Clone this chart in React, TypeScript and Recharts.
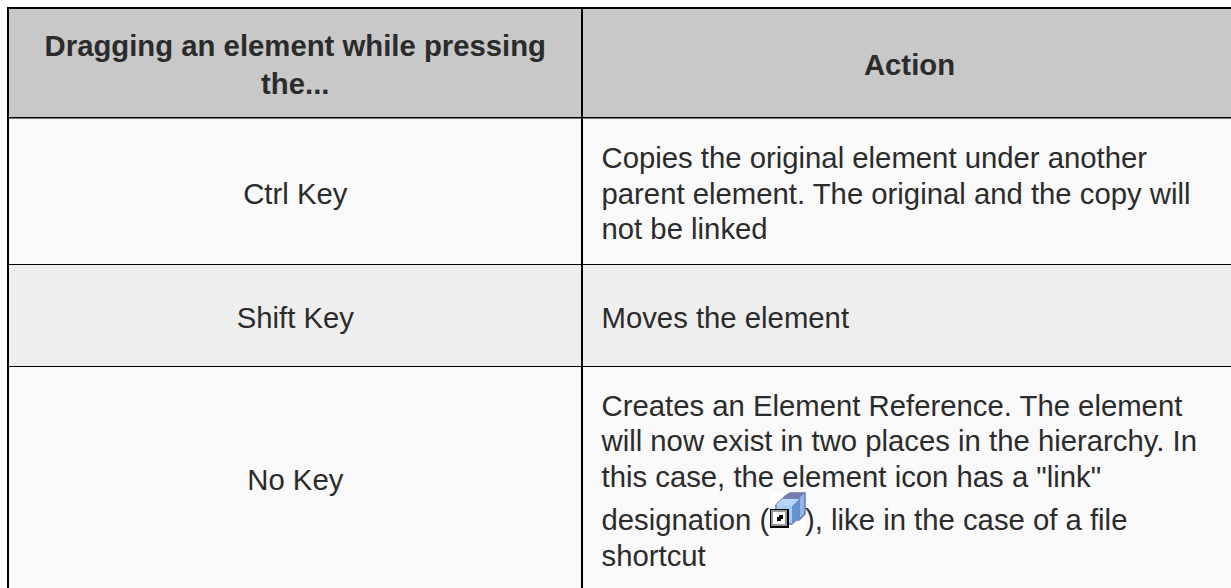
import React from 'react';
import { BarChart, Bar, XAxis, YAxis, ReferenceLine } from 'recharts';

const rowNames = ['header', 'ctrl', 'shift', 'noKey'];
const rowHeights = [110, 147, 102, 222];
const rowFills = ['#c8c8c8', '#f9f9f9', '#eeeeee', '#f9f9f9'];
const columnWidths = [575, 649];
const headers = [['Dragging an element while pressing', 'the...'], ['Action']];
const keyColumn = ['Ctrl Key', 'Shift Key', 'No Key'];
const actionColumn = [
  ['Copies the original element under another', 'parent element. The original and the copy will', 'not be linked'],
  ['Moves the element'],
  ['Creates an Element Reference. The element', 'will now exist in two places in the hierarchy. In', 'this case, the element icon has a "link"', 'designation (', 'shortcut'],
];
const iconLineTail = '), like in the case of a file';
const tableRow = Object.fromEntries([['name', 'table'], ...rowNames.map((n, i) => [n, rowHeights[i]])]);
const data = [tableRow];
const FONT = '"Liberation Sans", Arial, sans-serif';
const INK = '#2b2b2b';
const BODY = 29.3;
const HEAD = 29.3;
const LH = 35.5;
const HEAD_LH = 37.6;
const LEFT = 7;
const TOP = 7;
const TEXT_X = 601.5;
const NOKEY_OFFSETS = [-61, -26, 10, 53, 89];

const sum = (a: number[]) => a.reduce((s, v) => s + v, 0);
const rowMid = (i: number) => sum(rowHeights.slice(0, i)) + rowHeights[i] / 2;

function TextBlock({ lines, x, cy, anchor, bold, offsets }: { lines: string[]; x: number; cy: number; anchor: 'start' | 'middle'; bold?: boolean; offsets?: number[] }) {
  const lh = bold ? HEAD_LH : LH;
  const y0 = cy - ((lines.length - 1) * lh) / 2 + 13;
  return (
    <g>
      {lines.map((l, i) => (
        <text key={i} x={x} y={offsets ? cy + offsets[i] : y0 + i * lh} textAnchor={anchor} fontFamily={FONT} fontSize={bold ? HEAD : BODY} fontWeight={bold ? 700 : 400} fill={INK}>{l}</text>
      ))}
    </g>
  );
}

function Icon({ x, y }: { x: number; y: number }) {
  const p = (d: string) => d.replace(/(-?\d+),(-?\d+)/g, (_, a, b) => `${x + Number(a)},${y + Number(b)}`);
  return (
    <g>
      <rect x={x} y={y} width={35} height={35} fill="#fff" />
      <path d={p('M14,4 L20,0 L35,0 L35,21 L29,27 L14,27 Z')} fill="#8fb6e6" stroke="#6f75ad" strokeWidth={1.5} />
      <path d={p('M14,4 L20,0 L35,0 L29,5 L14,5 Z')} fill="#7a7ab0" />
      <path d={p('M6,12 L12,6 L29,6 L29,24 L22,31 L6,31 Z')} fill="#a9ccf2" stroke="#6f75ad" strokeWidth={1.5} />
      <path d={p('M22,13 L29,6 L29,24 L22,31 Z')} fill="#5f93d2" />
      <path d={p('M6,12 L12,6 L29,6 L22,13 Z')} fill="#b9d4f4" />
      <rect x={x} y={y + 16} width={19} height={19} fill="#000" />
      <rect x={x + 1} y={y + 17} width={16} height={16} fill="#999" />
      <rect x={x + 3} y={y + 19} width={12} height={12} fill="#fff" />
      <path d={p('M7,28 L7,24 L9,24 L9,22 L13,22 L13,26 L11,26 L11,28 Z')} fill="#000" />
    </g>
  );
}

const col1Mid = 295.3;
const col2Mid = LEFT + columnWidths[0] + columnWidths[1] / 2 + 3;

export default function App() {
  return (
    <div style={{ position: 'absolute', left: 0, top: 0 }}>
      <BarChart width={1231} height={588} data={data} margin={{ top: TOP, left: LEFT, right: 0, bottom: 0 }} barCategoryGap={0} style={{ background: '#fff' }}>
        <XAxis dataKey="name" hide />
        <YAxis type="number" hide reversed domain={[0, sum(rowHeights)]} allowDataOverflow />
        {rowNames.map((n, i) => (
          <Bar key={n} dataKey={n} stackId="t" fill={rowFills[i]} isAnimationActive={false} />
        ))}
        <ReferenceLine y={1} stroke="#000" strokeWidth={2} />
        <ReferenceLine y={110.8} stroke="#000" strokeWidth={1.6} />
        <ReferenceLine y={257.5} stroke="#000" strokeWidth={1} />
        <ReferenceLine y={359.5} stroke="#000" strokeWidth={1} />
        <ReferenceLine y={0} shape={(p: any) => {
          const span = p.x2 - p.x1;
          const dividerX = p.x1 + (span * columnWidths[0]) / sum(columnWidths);
          return (
            <g>
              <line x1={p.x1 + 1} x2={p.x1 + 1} y1={p.y1} y2={p.y1 + sum(rowHeights)} stroke="#000" strokeWidth={2} />
              <line x1={dividerX} x2={dividerX} y1={p.y1} y2={p.y1 + sum(rowHeights)} stroke="#000" strokeWidth={2} />
            </g>
          );
        }} />
        <ReferenceLine y={rowMid(0)} shape={(p: any) => (
          <g>
            <TextBlock lines={headers[0]} x={col1Mid} cy={p.y1} anchor="middle" bold />
            <TextBlock lines={headers[1]} x={col2Mid} cy={p.y1} anchor="middle" bold />
          </g>
        )} />
        {keyColumn.map((k, i) => (
          <ReferenceLine key={k} y={rowMid(i + 1)} shape={(p: any) => (
            <g>
              <TextBlock lines={[k]} x={col1Mid} cy={p.y1} anchor="middle" />
              <TextBlock lines={actionColumn[i]} x={TEXT_X} cy={p.y1} anchor="start" offsets={i === 2 ? NOKEY_OFFSETS : undefined} />
              {i === 2 && (
                <g>
                  <Icon x={770} y={p.y1 + 16} />
                  <text x={805} y={p.y1 + 53} fontFamily={FONT} fontSize={BODY} fill={INK}>{iconLineTail}</text>
                </g>
              )}
            </g>
          )} />
        ))}
      </BarChart>
    </div>
  );
}
